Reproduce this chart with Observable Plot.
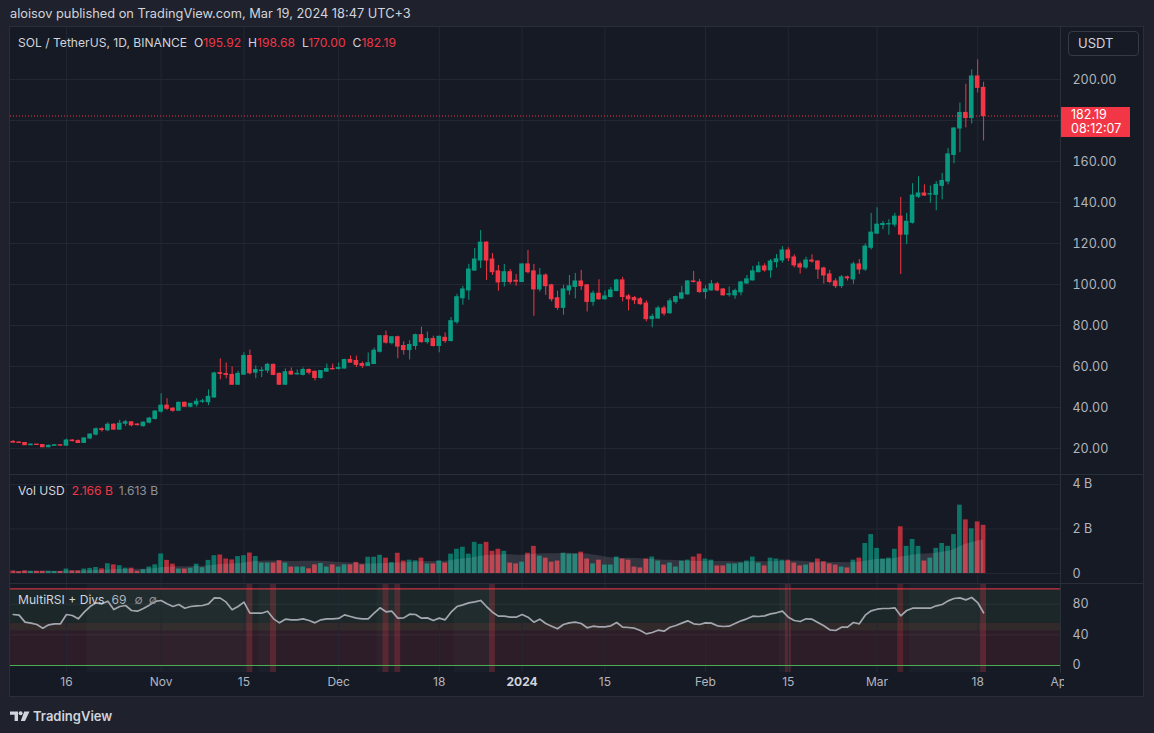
<!DOCTYPE html>
<html lang="en">
<head>
<meta charset="utf-8">
<title>SOL / TetherUS, 1D, BINANCE</title>
<script src="https://cdn.jsdelivr.net/npm/d3@7"></script>
<script src="https://cdn.jsdelivr.net/npm/@observablehq/plot@0.6"></script>
<style>
html,body{margin:0;padding:0;background:#1f222c;}
body{width:1154px;height:733px;overflow:hidden;font-family:Inter,Roboto,"Noto Sans",sans-serif;color:#d1d4dc;}
#root{position:relative;width:1154px;height:733px;}
.a{position:absolute;white-space:nowrap;}
#frame{left:9px;top:26px;width:1135px;height:671px;background:#161a25;border:1px solid #2a2e39;box-sizing:border-box;}
.hline{height:1px;background:#2a2e39;left:9px;width:1135px;}
.vline{width:1px;background:#2a2e39;}
.leg{font-size:12.1px;line-height:16px;}
.red{color:#f23645;}
.gray{color:#8f929b;}
#usdt{left:1068px;top:31px;width:71px;height:25px;border:1px solid #363a45;border-radius:4px;box-sizing:border-box;font-size:13px;line-height:23px;padding-left:9px;color:#d1d4dc;background:#161a25;}
#plabel{left:1061px;width:69px;height:30px;background:#f23645;color:#fff;font-size:12.5px;line-height:14px;padding:1px 0 0 10px;box-sizing:border-box;}
</style>
</head>
<body>
<div id="root">
  <div class="a" id="frame"></div>
  <div class="a leg" style="left:10px;top:6px;font-size:12.8px;color:#d1d4dc">aloisov published on TradingView.com, Mar 19, 2024 18:47 UTC+3</div>
  <div class="a" id="pricePane" style="left:10px;top:27px"></div>
  <div class="a" id="volPane" style="left:10px;top:474px"></div>
  <div class="a" id="rsiPane" style="left:10px;top:583px"></div>
  <div class="a" style="left:1064px;top:673px;width:79px;height:23px;background:#161a25"></div>
  <div class="a hline" style="top:474px"></div>
  <div class="a hline" style="top:583px"></div>
  <div class="a vline" style="left:1060px;top:27px;height:646px"></div>
  <div class="a leg" style="left:18px;top:35px">SOL / TetherUS, 1D, BINANCE<span style="margin-left:7px">O</span><span class="red" id="vO"></span><span style="margin-left:7px">H</span><span class="red" id="vH"></span><span style="margin-left:7px">L</span><span class="red" id="vL"></span><span style="margin-left:7px">C</span><span class="red" id="vC"></span></div>
  <div class="a leg" style="left:18px;top:483px">Vol USD<span class="red" style="margin-left:7px">2.166 B</span><span class="gray" style="margin-left:6px">1.613 B</span></div>
  <div class="a leg" style="left:18px;top:592px">MultiRSI + Divs<span class="gray" style="margin-left:7px;color:#b2b5be">69</span><span class="gray" style="margin-left:8px">∅</span><span class="gray" style="margin-left:6px">∅</span></div>
  <div class="a" id="usdt">USDT</div>
  <div class="a" id="plabel"><div>182.19</div><div>08:12:07</div></div>
  <svg class="a" style="left:10px;top:710px" width="20" height="12" viewBox="0 0 20 12">
    <path d="M0 1.5H8V11H4.6V4.7H0Z" fill="#d1d4dc"/>
    <circle cx="10.6" cy="3.2" r="2" fill="#d1d4dc"/>
    <path d="M14.2 1.5H19.5L15 11H10.8Z" fill="#d1d4dc"/>
  </svg>
  <div class="a" style="left:33px;top:708px;font-size:13px;line-height:16px;font-weight:600;color:#d1d4dc">TradingView</div>
</div>
<script>
const FONT = 'Inter, Roboto, "Noto Sans", sans-serif';
const UP = "#089981", DOWN = "#f23645", GRID = "#232733", AXIS_TEXT = "#b2b5be";
const DAY = 864e5;

// ---- Daily candles, SOL/USDT 1D (Oct 7, 2023 - Mar 19, 2024) ----
const opens = [
  23.2,22.9,22.7,21.6,21.9,21.7,20.6,21.3,21.6,21.4,
  23.9,23.6,22.7,24.9,26.8,29.4,28.9,31.6,29.2,32.1,
  32.8,31.7,30.9,32.6,34.4,38.0,40.9,39.4,38.4,42.3,
  40.4,41.5,42.8,42.6,44.9,56.8,56.3,55.9,51.1,56.0,
  65.1,57.0,57.8,58.0,60.8,56.4,51.1,57.4,56.2,55.9,
  58.3,57.4,54.4,57.5,58.8,58.8,59.0,63.2,62.7,61.2,
  60.3,61.2,67.2,74.8,71.4,74.3,70.0,68.0,70.0,75.3,
  71.9,73.4,70.0,74.0,72.4,81.6,93.3,97.1,106.8,111.7,
  120.4,112.2,106.4,101.2,106.0,101.8,101.2,109.8,106.4,97.6,
  104.4,99.6,93.3,88.6,97.1,98.8,101.5,99.6,91.5,95.5,
  92.8,93.9,96.8,102.0,94.2,93.4,92.8,90.7,83.1,83.4,
  88.3,86.0,91.5,93.1,95.2,101.5,101.0,96.3,97.1,100.1,
  97.6,95.0,94.7,96.2,100.5,102.0,106.0,108.8,106.9,110.9,
  111.7,116.6,113.2,109.8,108.3,111.7,111.2,107.8,104.9,101.5,
  99.2,103.5,102.5,109.8,107.3,117.9,124.8,129.0,129.3,129.2,
  133.1,124.3,130.1,142.8,144.4,143.9,143.7,148.1,150.2,163.2,
  176.1,183.7,181.2,201.5,195.92
];
const highs = [
  23.9,23.3,22.9,22.2,22.0,21.9,21.7,21.8,21.8,24.6,
  24.3,24.2,25.3,27.2,30.0,30.1,32.6,32.2,33.7,33.7,
  33.0,32.0,33.0,35.2,38.5,46.7,44.3,40.0,42.6,42.6,
  42.0,44.3,44.0,48.6,57.2,63.7,61.7,59.8,57.7,66.7,
  68.0,60.3,59.5,61.6,61.2,56.8,58.8,59.3,58.3,59.3,
  58.8,57.8,58.0,61.2,61.2,61.7,63.5,65.1,65.1,62.2,
  66.6,69.0,75.0,77.3,74.5,74.8,72.1,72.6,75.8,79.2,
  76.8,74.8,74.8,76.4,83.9,95.2,99.1,109.8,117.5,126.3,
  120.9,115.1,109.3,109.8,107.3,104.9,110.0,116.6,109.8,107.8,
  105.2,100.1,96.7,99.6,104.4,105.4,106.9,100.0,96.8,102.3,
  96.8,98.6,102.5,103.5,95.2,94.2,93.6,92.0,85.5,89.4,
  89.4,93.1,94.4,99.1,102.0,106.4,102.5,99.4,102.0,101.0,
  98.1,98.8,97.8,101.5,104.4,108.8,110.9,110.1,112.2,114.6,
  118.5,117.9,114.5,110.9,113.3,114.5,111.7,108.5,106.9,102.8,
  104.4,104.1,110.9,112.2,119.8,134.7,137.4,130.8,131.6,134.7,
  142.5,134.7,149.2,152.6,148.6,148.1,150.2,154.2,166.4,176.5,
  188.5,197.7,204.7,209.6,198.68
];
const lows = [
  22.6,22.5,21.5,21.4,21.5,20.4,20.4,21.2,21.3,21.2,
  23.2,22.6,22.6,24.3,26.1,28.0,28.2,29.0,29.0,30.8,
  30.6,31.0,30.5,32.0,33.9,37.3,38.6,37.7,38.2,40.1,
  39.8,40.2,42.0,40.9,44.5,53.5,54.0,51.0,50.9,55.7,
  55.9,54.0,54.6,56.6,55.5,50.9,50.8,55.7,55.7,55.4,
  55.9,53.0,53.8,57.2,58.3,58.3,58.8,61.6,59.5,59.0,
  60.1,61.0,66.6,70.9,70.5,63.8,65.6,63.2,68.0,71.4,
  70.9,69.5,66.7,71.3,72.0,80.6,89.9,92.3,106.4,107.8,
  102.0,104.4,96.7,98.8,100.1,99.2,101.0,105.2,84.5,96.3,
  94.7,91.5,87.4,85.0,94.7,93.0,97.1,86.6,89.4,92.3,
  92.3,93.4,96.5,91.5,87.1,90.2,89.9,81.8,78.9,83.1,
  84.5,85.5,90.4,92.6,94.7,100.7,95.7,92.8,96.8,96.5,
  94.4,93.9,92.8,94.5,100.0,101.7,105.7,106.0,103.1,108.0,
  110.4,111.2,108.1,105.1,107.3,110.4,102.5,100.2,100.4,98.0,
  98.1,101.7,100.1,104.9,106.4,116.9,124.6,126.7,124.0,127.9,
  104.9,119.5,129.5,141.9,142.9,139.7,136.0,141.3,148.6,158.9,
  164.3,176.4,178.3,193.4,170.00
];
const closes = [
  22.9,22.7,21.6,21.9,21.7,20.6,21.3,21.6,21.4,23.9,
  23.6,22.7,24.9,26.8,29.4,29.0,31.6,29.2,32.1,32.8,
  31.3,31.4,32.6,34.6,38.0,40.9,39.4,38.4,42.3,40.4,
  41.8,42.8,43.0,45.2,56.6,56.4,55.9,51.1,56.4,65.1,
  56.7,58.3,58.0,60.8,55.9,51.1,57.2,56.1,56.4,58.3,
  57.0,54.4,57.8,58.8,58.6,59.3,63.2,61.9,60.8,60.3,
  61.6,67.7,74.8,71.6,74.3,69.7,68.0,70.5,75.3,71.9,
  73.4,70.0,74.5,72.4,82.1,93.8,97.6,107.3,112.2,120.4,
  111.7,106.0,101.0,106.0,101.2,101.4,109.8,106.0,97.6,104.4,
  99.2,92.8,88.6,97.6,99.1,101.5,99.2,91.5,95.5,92.8,
  94.2,97.1,102.0,93.9,92.8,92.3,90.4,83.1,84.2,88.3,
  85.8,91.8,93.9,95.7,101.5,101.2,96.3,97.6,100.1,97.1,
  94.7,95.2,96.8,101.0,102.5,106.4,108.8,106.9,111.2,112.3,
  116.6,112.8,109.3,108.3,111.7,111.2,107.3,104.4,101.2,99.2,
  103.5,103.0,109.8,107.3,118.5,125.3,129.2,129.5,129.5,133.1,
  124.3,130.6,143.4,144.4,143.4,144.1,148.6,150.5,163.5,176.1,
  183.7,181.2,201.5,195.92,182.19
];
// volume in billions of USD
const volumesB = [
  0.11,0.08,0.12,0.10,0.10,0.10,0.10,0.09,0.09,0.20,
  0.12,0.12,0.20,0.23,0.27,0.21,0.44,0.39,0.35,0.24,
  0.24,0.10,0.17,0.29,0.39,0.88,0.59,0.42,0.20,0.20,
  0.24,0.42,0.26,0.59,0.80,0.83,0.65,0.61,0.76,0.80,
  0.92,0.76,0.47,0.47,0.47,0.58,0.47,0.29,0.29,0.29,
  0.21,0.39,0.45,0.29,0.39,0.29,0.39,0.39,0.50,0.39,
  0.73,0.73,0.82,0.69,0.49,0.91,0.56,0.60,0.57,0.69,
  0.43,0.43,0.57,0.47,0.87,1.09,1.18,0.87,1.40,1.31,
  1.40,1.00,1.09,1.00,0.47,0.43,0.51,0.91,1.22,0.78,
  0.69,0.51,0.56,0.91,0.87,0.87,0.96,0.65,0.43,0.60,
  0.38,0.38,0.74,0.65,0.60,0.29,0.25,0.65,0.74,0.56,
  0.38,0.47,0.29,0.56,0.60,0.74,0.87,0.65,0.60,0.34,
  0.34,0.43,0.43,0.47,0.56,0.74,0.47,0.34,0.69,0.65,
  0.60,0.60,0.47,0.34,0.38,0.47,0.65,0.53,0.43,0.38,
  0.29,0.25,0.60,0.69,1.35,1.75,1.13,0.65,0.69,1.09,
  2.10,1.22,1.53,1.22,0.56,0.69,1.13,1.35,1.22,1.75,
  3.07,2.41,2.01,2.32,2.166
];
// MultiRSI line as drawn
const rsiValues = [
  66.6,65.7,56.6,55.3,53.5,48.7,53.1,54.4,54.4,66.6,
  65.3,60.9,69.6,77.0,81.8,80.5,84.0,73.1,77.0,78.3,
  71.8,70.9,74.4,78.8,83.6,84.9,80.5,77.0,79.6,74.8,
  77.0,77.9,78.3,80.5,88.3,87.9,82.7,72.7,77.0,82.7,
  68.3,68.3,68.3,70.9,60.9,55.7,60.5,59.6,59.6,60.9,
  58.7,55.7,59.6,60.9,60.9,61.4,66.1,64.0,61.8,60.9,
  60.9,68.3,75.3,70.1,70.9,61.8,62.2,67.0,66.6,61.8,
  62.2,58.7,61.8,59.6,69.6,77.0,79.2,81.8,83.1,84.9,
  77.0,69.6,64.4,64.4,63.1,63.1,66.6,63.1,56.6,60.5,
  54.8,51.3,47.9,53.5,55.7,56.6,54.8,49.2,51.3,50.5,
  50.5,51.8,56.1,50.0,49.6,48.7,45.7,41.3,43.1,46.1,
  44.8,50.0,52.2,55.3,58.3,54.4,53.5,55.7,55.3,51.8,
  50.9,51.3,54.8,58.3,60.9,64.4,64.0,64.8,67.4,68.8,
  70.9,63.1,58.7,57.4,60.9,60.5,56.1,51.8,46.6,45.7,
  50.0,50.0,56.1,54.4,65.7,71.4,73.5,74.4,74.4,75.3,
  64.8,71.8,74.8,74.8,74.8,74.8,77.9,79.6,84.4,87.5,
  88.3,85.7,88.8,82.2,68.8
];

// ---- axes / tick labels ----
const xTickDates = ["2023-10-16","2023-11-01","2023-11-15","2023-12-01","2023-12-18","2024-01-01","2024-01-15","2024-02-01","2024-02-15","2024-03-01","2024-03-18","2024-04-01"];
const xTickLabels = ["16","Nov","15","Dec","18","2024","15","Feb","15","Mar","18","Apr"];
const priceGridTicks = [20,40,60,80,100,120,140,160,180,200];
const priceLabelTicks = [20,40,60,80,100,120,140,160,200];
const volumeTicks = [0,2,4];
const rsiTicks = [0,40,80];
const rsiGridTicks = [40,80];
const rsiUpperLevel = 100, rsiLowerLevel = 0;
const rsiBullBand = [45,100], rsiBearBand = [0,55];
const overboughtZones = [["2023-10-20","2023-11-16"],["2023-11-18","2023-11-20"],["2023-12-08","2023-12-11"],["2023-12-21","2023-12-27"],["2024-02-14","2024-02-15"],["2024-03-07","2024-03-19"]];
const divergenceDays = ["2023-11-16","2023-11-20","2023-12-09","2023-12-11","2023-12-27","2024-02-15","2024-03-05","2024-03-19"];

// ---- build table ----
const dates = d3.utcDay.range(new Date("2023-10-07"), new Date("2024-03-20"));
const candles = dates.map((date, i) => ({
  date, open: opens[i], high: highs[i], low: lows[i], close: closes[i],
  vol: volumesB[i], rsi: rsiValues[i],
  color: closes[i] >= opens[i] ? UP : DOWN
}));
const last = candles[candles.length - 1];
const xTicks = xTickDates.map(d => new Date(d));
const xDomain = [new Date(Date.parse("2023-10-07") - 0.456 * DAY), new Date("2024-04-01")];
const halfBody = 0.39 * DAY;

const W = 1133, MR = 83;
const common = {
  width: W, marginLeft: 0, marginRight: MR, marginTop: 0,
  x: {type: "utc", domain: xDomain, axis: null},
  color: {type: "identity"},
  style: {background: "transparent", color: AXIS_TEXT, fontSize: "12px", fontFamily: FONT, overflow: "visible"}
};

// price pane
const priceDomain = [7.32, 225.37];
const pricePlot = Plot.plot({
  ...common, height: 447, marginBottom: 0,
  y: {domain: priceDomain, axis: null, label: null},
  marks: [
    Plot.gridX(xTicks, {stroke: GRID, strokeOpacity: 1}),
    Plot.gridY(priceGridTicks, {stroke: GRID, strokeOpacity: 1}),
    Plot.ruleX(candles, {x: "date", y1: "low", y2: "high", stroke: "color", strokeWidth: 1}),
    Plot.rect(candles, {x1: d => new Date(+d.date - halfBody), x2: d => new Date(+d.date + halfBody), y1: "open", y2: "close", fill: "color", insetTop: -0.5, insetBottom: -0.5}),
    Plot.ruleY([last.close], {stroke: DOWN, strokeDasharray: "1,2", strokeWidth: 1}),
    Plot.axisY(priceLabelTicks, {anchor: "right", label: null, tickSize: 0, tickPadding: 12, tickFormat: d3.format(".2f"), fontSize: 12.5})
  ]
});
document.getElementById("pricePane").append(pricePlot);

// volume pane
const volPlot = Plot.plot({
  ...common, height: 109, marginBottom: 0,
  y: {domain: [-0.449, 4.449], axis: null, label: null},
  marks: [
    Plot.gridX(xTicks, {stroke: GRID, strokeOpacity: 1}),
    Plot.gridY(volumeTicks, {stroke: GRID, strokeOpacity: 1}),
    Plot.rect(candles, {x1: d => new Date(+d.date - 0.4 * DAY), x2: d => new Date(+d.date + 0.4 * DAY), y1: 0, y2: "vol", fill: "color", fillOpacity: 0.72}),
    Plot.areaY(candles, Plot.windowY({k: 20, anchor: "end", reduce: "mean"}, {x: "date", y: "vol", fill: "#ffffff", fillOpacity: 0.12})),
    Plot.axisY(volumeTicks, {anchor: "right", label: null, tickSize: 0, tickPadding: 12, tickFormat: d => d === 0 ? "0" : `${d} B`, fontSize: 12.5})
  ]
});
document.getElementById("volPane").append(volPlot);

// RSI pane (+ time axis)
const rsiDomain = [-9.14, 107.05];
const rsiPlot = Plot.plot({
  ...common, height: 114, marginBottom: 25,
  y: {domain: rsiDomain, axis: null, label: null},
  marks: [
    Plot.rect([rsiBullBand], {x1: () => xDomain[0], x2: () => xDomain[1], y1: d => d[0], y2: d => d[1], fill: "#4caf50", fillOpacity: 0.09}),
    Plot.rect([rsiBearBand], {x1: () => xDomain[0], x2: () => xDomain[1], y1: d => d[0], y2: d => d[1], fill: "#f23645", fillOpacity: 0.1}),
    Plot.rect(overboughtZones, {x1: d => new Date(Date.parse(d[0]) - 0.5 * DAY), x2: d => new Date(Date.parse(d[1]) + 0.5 * DAY), y1: () => rsiDomain[0], y2: () => rsiDomain[1], fill: "#ffffff", fillOpacity: 0.025}),
    Plot.rect(divergenceDays, {x1: d => new Date(Date.parse(d) - 0.5 * DAY), x2: d => new Date(Date.parse(d) + 0.5 * DAY), y1: () => rsiDomain[0], y2: () => rsiDomain[1], fill: "#f23645", fillOpacity: 0.22}),
    Plot.gridX(xTicks, {stroke: GRID, strokeOpacity: 1}),
    Plot.gridY(rsiGridTicks, {stroke: "#ffffff", strokeOpacity: 0.06}),
    Plot.ruleY([rsiUpperLevel], {stroke: "#f23645", strokeWidth: 1}),
    Plot.ruleY([rsiLowerLevel], {stroke: "#4caf50", strokeWidth: 1}),
    Plot.line(candles, {x: "date", y: "rsi", stroke: "#a3a6ae", strokeWidth: 1.7}),
    Plot.axisY(rsiTicks, {anchor: "right", label: null, tickSize: 0, tickPadding: 12, fontSize: 12.5}),
    Plot.text(xTicks.filter((d, i) => xTickLabels[i] !== "2024"), {x: d => d, text: d => xTickLabels[xTicks.indexOf(d)], frameAnchor: "bottom", dy: 13, fill: AXIS_TEXT, fontSize: 12}),
    Plot.text(xTicks.filter((d, i) => xTickLabels[i] === "2024"), {x: d => d, text: d => xTickLabels[xTicks.indexOf(d)], frameAnchor: "bottom", dy: 13, fill: "#d1d4dc", fontSize: 12, fontWeight: "bold"})
  ]
});
document.getElementById("rsiPane").append(rsiPlot);

// legend values & price label from data
const f2 = d3.format(".2f");
document.getElementById("vO").textContent = f2(last.open);
document.getElementById("vH").textContent = f2(last.high);
document.getElementById("vL").textContent = f2(last.low);
document.getElementById("vC").textContent = f2(last.close);
const yLast = pricePlot.scale("y").apply(last.close);
document.getElementById("plabel").style.top = (27 + yLast - 9) + "px";
</script>
</body>
</html>
